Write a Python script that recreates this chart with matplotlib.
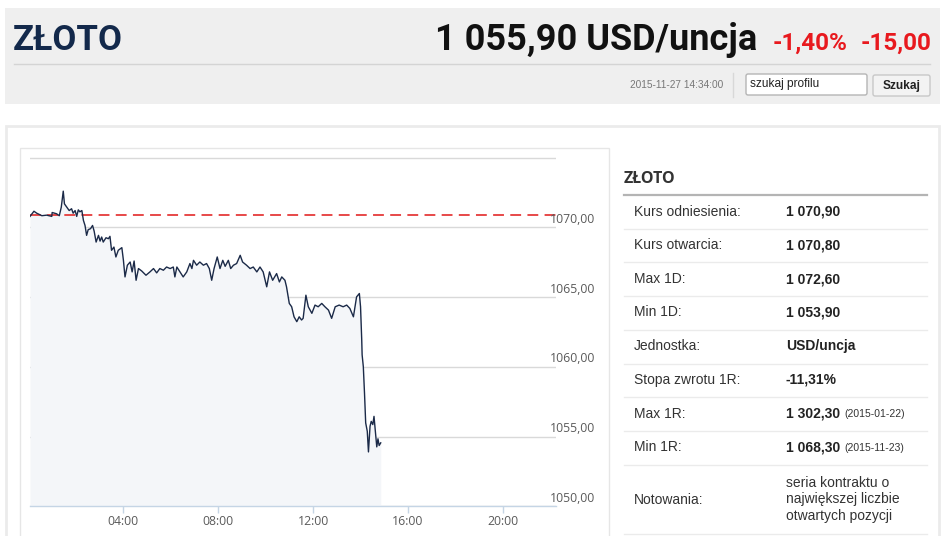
import matplotlib.pyplot as plt
from matplotlib.patches import Rectangle, FancyBboxPatch
import matplotlib.transforms as mtransforms

# intraday gold quote, minutes after midnight and USD/ounce
minutes = [5, 15, 22, 35, 47, 60, 61, 72, 79, 84, 89, 92, 98, 104, 110, 114, 119, 123, 127, 131,
           136, 140, 144, 148, 152, 158, 163, 167, 172, 178, 182, 186, 190, 197, 203, 207, 211, 217,
           222, 228, 237, 241, 245, 251, 258, 263, 268, 273, 279, 287, 298, 308, 317, 325, 333, 342,
           350, 359, 367, 371, 376, 384, 392, 401, 409, 414, 418, 426, 434, 443, 451, 458, 464, 470,
           478, 485, 492, 498, 506, 512, 519, 527, 536, 542, 552, 561, 569, 578, 586, 594, 603, 610,
           618, 628, 635, 641, 649, 653, 660, 666, 672, 679, 685, 691, 695, 702, 708, 717, 725, 733,
           742, 750, 759, 767, 776, 786, 796, 805, 813, 822, 830, 837, 840, 843, 844, 847, 850, 853,
           857, 860, 864, 867, 871, 874, 877, 881, 884, 887, 891]
prices = [1070.79, 1071.16, 1071.02, 1070.84, 1070.88, 1070.79, 1071.07, 1070.98, 1070.84, 1071.45,
          1072.60, 1071.69, 1071.45, 1071.21, 1071.34, 1071.02, 1071.21, 1070.79, 1071.26, 1071.12,
          1071.21, 1070.50, 1070.14, 1069.43, 1069.84, 1069.91, 1070.14, 1069.74, 1068.95, 1069.43,
          1069.02, 1069.31, 1068.95, 1069.26, 1069.19, 1069.36, 1068.36, 1068.59, 1067.88, 1068.36,
          1068.55, 1067.64, 1066.45, 1067.29, 1067.52, 1066.81, 1067.59, 1066.21, 1067.05, 1066.88,
          1066.57, 1066.81, 1067.05, 1066.74, 1067.05, 1066.93, 1067.16, 1067.05, 1067.16, 1066.45,
          1067.16, 1066.81, 1066.45, 1066.81, 1067.41, 1067.05, 1067.64, 1067.29, 1067.52, 1067.29,
          1067.41, 1067.05, 1066.21, 1067.05, 1067.88, 1067.05, 1067.64, 1067.21, 1067.64, 1067.05,
          1067.29, 1067.41, 1068.00, 1067.52, 1067.29, 1067.05, 1067.16, 1066.81, 1067.16, 1066.81,
          1065.74, 1066.81, 1066.21, 1066.69, 1066.09, 1066.45, 1066.21, 1065.74, 1064.55, 1064.31,
          1063.59, 1063.24, 1063.59, 1063.36, 1063.48, 1065.14, 1064.31, 1063.84, 1064.43, 1064.31,
          1064.55, 1064.31, 1064.07, 1063.48, 1064.31, 1064.43, 1064.31, 1064.43, 1064.19, 1063.59,
          1065.02, 1065.26, 1064.31, 1061.93, 1060.86, 1060.02, 1058.12, 1055.98, 1055.38, 1053.90,
          1055.74, 1056.09, 1055.86, 1056.45, 1055.50, 1054.26, 1054.84, 1054.36, 1054.55]
ref_price = 1070.90

x_ticks = [240, 480, 720, 960, 1200]
x_labels = ['04:00', '08:00', '12:00', '16:00', '20:00']
y_grid = [1050, 1055, 1060, 1065, 1070, 1075]
y_labels = ['1050,00', '1055,00', '1060,00', '1065,00', '1070,00']

table_labels = ['Kurs odniesienia:', 'Kurs otwarcia:', 'Max 1D:', 'Min 1D:', 'Jednostka:',
                'Stopa zwrotu 1R:', 'Max 1R:', 'Min 1R:', 'Notowania:']
table_values = ['1 070,90', '1 070,80', '1 072,60', '1 053,90', 'USD/uncja', '-11,31%',
                '1 302,30', '1 068,30', 'seria kontraktu o\nnajwiększej liczbie\notwartych pozycji']
table_dates = ['', '', '', '', '', '', '(2015-01-22)', '(2015-11-23)', '']

W, H = 945, 536
fig = plt.figure(figsize=(W / 100, H / 100), dpi=100)
fig.patch.set_facecolor('white')

# page layer in pixel coordinates
page = fig.add_axes([0, 0, 1, 1])
page.set_xlim(0, W)
page.set_ylim(H, 0)
page.axis('off')
page.set_zorder(0)

# header bar
page.add_patch(Rectangle((5, 8), 935, 96, fc='#efefef', ec='none'))
page.plot([14, 930], [63.5, 63.5], color='#d4d4d4', lw=1)
page.plot([733, 733], [73, 97], color='#d8d8d8', lw=1)
page.text(13, 50, 'ZŁOTO', family=['Liberation Sans Narrow', 'Roboto'], weight='bold',
          fontsize=25, color='#13294b', va='baseline')
page.text(757, 50, '1 055,90 USD/uncja', family='Roboto', weight='bold', fontsize=26,
          color='#111111', va='baseline', ha='right')
page.text(773, 50, '-1,40%', family='Roboto', weight='bold', fontsize=17.5,
          color='#e8191e', va='baseline')
page.text(931, 50, '-15,00', family='Roboto', weight='bold', fontsize=17.5,
          color='#e8191e', va='baseline', ha='right')
page.text(723, 85, '2015-11-27 14:34:00', family='Liberation Sans', fontsize=7.3,
          color='#777777', va='center', ha='right')
page.add_patch(FancyBboxPatch((746, 74), 121, 21, boxstyle='round,pad=0,rounding_size=2',
                              fc='white', ec='#b5b5b5', lw=1))
page.text(750, 84.5, 'szukaj profilu', family='Liberation Sans', fontsize=8.6,
          color='#222222', va='center')
page.add_patch(FancyBboxPatch((873, 75), 57, 21, boxstyle='round,pad=0,rounding_size=2',
                              fc='#f3f3f3', ec='#c8c8c8', lw=1))
page.text(901.5, 86, 'Szukaj', family='Liberation Sans', weight='bold', fontsize=8.6,
          color='#222222', va='center', ha='center')

# content panels
page.add_patch(Rectangle((6, 125.5), 933, 420, fc='white', ec='#ebebeb', lw=2))
page.add_patch(Rectangle((19.5, 147.5), 589, 400, fc='white', ec='#e6e6e6', lw=1))

# right info table
page.text(624, 179, 'ZŁOTO', family='Open Sans', weight='bold', fontsize=11.5,
          color='#333333', va='center')
page.plot([624, 927], [194.5, 194.5], color='#b4b4b4', lw=1.6)
row_mid = [211.5, 245.3, 279, 312.5, 346.2, 380, 413.5, 447.3, 499.5]
row_line = [228.5, 262.3, 296, 329.8, 363.5, 397.3, 431, 464.8, 534]
for i, lab in enumerate(table_labels):
    page.text(634, row_mid[i], lab, family='Liberation Sans', fontsize=10,
              color='#333333', va='center')
    if '\n' in table_values[i]:
        page.text(786, row_mid[i], table_values[i], family='Liberation Sans', fontsize=10,
                  color='#333333', va='center', linespacing=1.25)
    else:
        page.text(786, row_mid[i], table_values[i], family='Liberation Sans', fontsize=10,
                  weight='bold', color='#222222', va='center')
    if table_dates[i]:
        page.text(844, row_mid[i] + 0.5, table_dates[i], family='Liberation Sans',
                  fontsize=7.5, color='#333333', va='center')
    page.plot([624, 927], [row_line[i], row_line[i]], color='#ebebeb', lw=1)

# chart
left, right, top, bottom = 30, 555.7, 157, 506.3
ax = fig.add_axes([left / W, 1 - bottom / H, (right - left) / W, (bottom - top) / H])
ax.set_zorder(1)
ax.patch.set_alpha(0)
ax.set_xlim(5, 1333)
ax.set_ylim(1050, 1075.05)

ax.fill_between(minutes, prices, 1050, color='#f4f6f9', lw=0, zorder=1)
ax.axhline(ref_price, color='#e53a3a', lw=1.3, ls=(0, (6, 3.5)), zorder=2)
ax.plot(minutes, prices, color='#1b2a48', lw=1.0, zorder=3)

ax.set_yticks(y_grid)
ax.yaxis.grid(True, color='#d9d9d9', lw=1)
ax.set_axisbelow(True)
ax.tick_params(axis='y', length=0, labelleft=False)
yt = mtransforms.blended_transform_factory(ax.transAxes, ax.transData)
for v, s in zip(y_grid, y_labels):
    ax.text(0.9895, v + 0.1, s, transform=yt, family='Open Sans', fontsize=8.8,
            color='#5a5a5a', va='bottom', ha='left', clip_on=False)

ax.set_xticks(x_ticks)
ax.set_xticklabels(x_labels, family='Open Sans', fontsize=8.8, color='#5a5a5a')
ax.tick_params(axis='x', length=5, width=1, color='#c5d5e5', pad=1.5)
for side in ['top', 'left', 'right']:
    ax.spines[side].set_visible(False)
ax.spines['bottom'].set_color('#c5d5e5')
ax.spines['bottom'].set_linewidth(1)

fig.savefig('out.png', dpi=100, facecolor='white')
